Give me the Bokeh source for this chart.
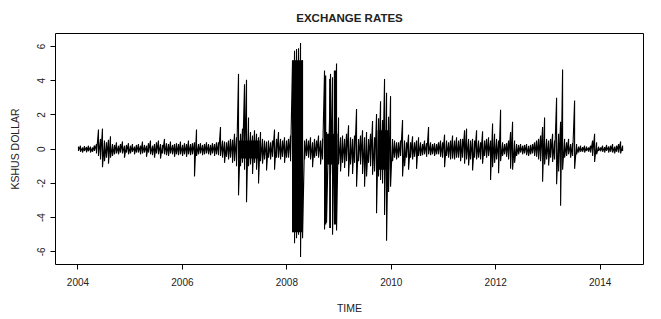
import numpy as np
from bokeh.plotting import figure
from bokeh.models import Range1d, FixedTicker
from bokeh.embed import file_html
from bokeh.resources import INLINE

# ---- data: per-column upper / lower extents of the daily series ----
start_year = 2004.01
end_year = 2014.43

hi = [
    0.15, 0.2, 0.1, 0.18, 0.12, 0.2, 0.15, 0.1, 0.22, 0.3,
    1.15, 0.6, 1.2, 0.5, 0.4, 0.55, 0.75, 0.3, 0.25, 0.4,
    0.2, 0.3, 0.45, 0.2, 0.25, 0.35, 0.2, 0.3, 0.15, 0.25,
    0.3, 0.2, 0.45, 0.25, 0.2, 0.35, 0.5, 0.2, 0.3, 0.4,
    0.5, 0.3, 0.25, 0.6, 0.35, 0.3, 0.45, 0.25, 0.3, 0.35,
    0.3, 0.45, 0.25, 0.35, 0.3, 0.5, 0.3, 0.35, 0.4, 1.15,
    0.3, 0.35, 0.25, 0.3, 0.4, 0.3, 0.25, 0.35, 0.3, 0.4,
    0.4, 1.3, 0.5, 0.45, 0.4, 0.5, 0.6, 0.55, 0.9, 0.7,
    4.4, 0.9, 1.2, 3.8, 4.05, 1.85, 1.0, 0.8, 1.1, 0.9,
    0.7, 1.0, 0.6, 0.5, 0.45, 0.5, 0.4, 0.5, 1.15, 0.6,
    1.0, 0.6, 0.5, 0.7, 0.5, 0.6, 0.8, 5.2, 5.75, 5.85,
    5.9, 6.2, 5.2, 0.5, 0.6, 0.5, 0.7, 0.4, 0.6, 0.5,
    0.8, 0.5, 0.6, 4.6, 1.0, 0.8, 4.4, 4.2, 2.0, 5.0,
    1.85, 0.7, 0.8, 0.6, 0.9, 1.4, 0.7, 0.6, 0.8, 2.35,
    0.6, 0.8, 1.1, 0.7, 1.0, 0.6, 0.9, 1.65, 0.7, 2.05,
    1.8, 2.8, 1.7, 4.1, 3.3, 1.9, 3.1, 0.6, 0.5, 0.4,
    0.4, 0.5, 1.7, 0.5, 0.4, 0.85, 0.4, 0.75, 0.4, 0.5,
    0.7, 0.4, 0.3, 0.5, 0.35, 1.3, 0.4, 0.3, 0.35, 0.3,
    0.4, 0.5, 0.4, 0.85, 0.5, 0.4, 0.5, 0.8, 0.5, 0.7,
    0.5, 0.6, 0.6, 1.1, 1.2, 0.6, 0.5, 0.6, 0.5, 1.1,
    0.5, 0.4, 1.05, 0.5, 0.6, 0.7, 0.5, 1.5, 0.9, 0.6,
    0.5, 2.3, 0.4, 0.3, 0.35, 0.5, 1.0, 1.6, 0.5, 0.3,
    0.25, 0.3, 0.2, 0.25, 0.3, 0.2, 0.25, 0.3, 0.4, 0.5,
    0.6, 0.8, 1.3, 1.85, 0.6, 0.5, 0.6, 0.9, 0.5, 3.0,
    0.9, 1.6, 4.65, 0.6, 0.4, 0.6, 0.3, 0.35, 2.85, 0.3,
    0.15, 0.2, 0.12, 0.2, 0.15, 0.1, 0.2, 0.5, 0.9, 0.4,
    0.15, 0.1, 0.2, 0.12, 0.25, 0.15, 0.2, 0.3, 0.15, 0.2,
    0.3, 0.45, 0.2,
]

lo = [
    -0.1, -0.15, -0.2, -0.1, -0.18, -0.12, -0.2, -0.15, -0.1, -0.25,
    -0.4, -0.6, -1.05, -0.7, -0.5, -0.85, -0.5, -0.4, -0.3, -0.25,
    -0.3, -0.2, -0.25, -0.5, -0.2, -0.3, -0.25, -0.15, -0.3, -0.2,
    -0.2, -0.3, -0.25, -0.2, -0.45, -0.2, -0.3, -0.35, -0.5, -0.25,
    -0.3, -0.55, -0.25, -0.3, -0.35, -0.4, -0.25, -0.3, -0.45, -0.3,
    -0.35, -0.3, -0.4, -0.3, -0.45, -0.3, -0.35, -0.3, -1.6, -0.4,
    -0.3, -0.25, -0.35, -0.3, -0.25, -0.3, -0.35, -0.25, -0.4, -0.3,
    -0.35, -0.4, -0.5, -0.8, -0.45, -0.6, -0.5, -0.8, -0.7, -1.0,
    -2.7, -1.0, -0.8, -1.2, -3.1, -1.0, -0.9, -1.45, -0.8, -1.2,
    -2.0, -0.7, -0.85, -0.6, -1.25, -0.5, -0.6, -0.45, -1.2, -0.5,
    -0.5, -0.6, -0.45, -0.8, -0.5, -0.5, -0.7, -4.85, -5.5, -5.2,
    -5.0, -6.3, -5.2, -0.6, -0.4, -0.5, -0.6, -1.05, -0.5, -0.4,
    -0.5, -0.9, -0.6, -4.7, -4.3, -0.8, -1.5, -5.0, -2.0, -4.75,
    -0.9, -1.3, -0.8, -1.1, -0.7, -1.6, -0.9, -1.45, -0.8, -2.2,
    -0.7, -0.9, -1.45, -2.2, -1.6, -0.8, -1.0, -1.5, -1.3, -3.75,
    -1.6, -1.8, -2.0, -3.85, -5.35, -2.5, -2.2, -0.7, -0.5, -0.6,
    -0.5, -0.4, -1.6, -1.0, -0.5, -1.2, -0.5, -0.6, -0.45, -1.15,
    -0.4, -0.4, -0.35, -0.3, -0.45, -0.3, -0.35, -0.3, -0.4, -0.3,
    -0.3, -0.45, -0.5, -1.05, -0.4, -0.5, -0.6, -0.55, -0.6, -0.5,
    -0.5, -0.7, -0.5, -0.85, -0.6, -0.95, -0.6, -1.25, -0.5, -0.6,
    -0.5, -0.6, -0.85, -0.4, -0.5, -0.4, -1.8, -1.05, -0.8, -0.6,
    -1.4, -0.7, -0.4, -0.3, -0.45, -0.6, -1.15, -1.2, -0.8, -0.4,
    -0.3, -0.2, -0.3, -0.25, -0.35, -0.4, -0.3, -0.25, -0.4, -0.45,
    -0.6, -0.7, -1.9, -0.9, -0.6, -0.95, -0.5, -0.75, -0.6, -2.05,
    -1.3, -3.3, -1.2, -0.5, -0.4, -0.3, -0.5, -0.4, -1.15, -0.3,
    -0.2, -0.15, -0.15, -0.2, -0.1, -0.15, -0.2, -0.4, -0.75, -0.3,
    -0.1, -0.12, -0.15, -0.2, -0.1, -0.2, -0.15, -0.2, -0.25, -0.15,
    -0.2, -0.25, -0.1,
]

# densely packed stretches that print as solid black
dense_start = [2007.08, 2008.11, 2008.72, 2008.77, 2008.81, 2008.90, 2009.74]
dense_end = [2007.48, 2008.31, 2008.755, 2008.97, 2008.845, 2008.945, 2009.96]
dense_top = [0.5, 5.2, 4.3, 0.9, 4.1, 4.6, 1.1]
dense_bottom = [-0.55, -4.85, -4.4, -0.9, -4.6, -4.4, -1.2]

x_ticks = [2004, 2006, 2008, 2010, 2012, 2014]
y_ticks = [-6, -4, -2, 0, 2, 4, 6]

# ---- build the trace: each time step runs from its high to its low ----
n = len(hi)
t = np.linspace(start_year, end_year, n)
xs, ys = [], []
for i in range(n):
    xs.extend([t[i], t[i]])
    ys.extend([hi[i], lo[i]])

p = figure(width=661, height=319, output_backend="svg", toolbar_location=None,
           x_range=Range1d(2003.57, 2014.83), y_range=Range1d(-6.74, 6.76),
           min_border_left=55, min_border_right=18, min_border_top=33, min_border_bottom=55,
           title="EXCHANGE RATES")

p.quad(left=dense_start, right=dense_end, top=dense_top, bottom=dense_bottom,
       fill_color="black", line_color=None)
p.line(xs, ys, line_color="black", line_width=1.1)

p.background_fill_color = "white"
p.border_fill_color = "white"
p.outline_line_color = "black"
p.outline_line_width = 1
p.xgrid.visible = False
p.ygrid.visible = False

p.title.align = "center"
p.title.text_font = "Liberation Sans"
p.title.text_font_style = "bold"
p.title.text_font_size = "11.5px"
p.title.text_color = "#222222"
p.title.standoff = 19

for ax in (p.xaxis[0], p.yaxis[0]):
    ax.axis_line_color = None
    ax.major_tick_line_color = "black"
    ax.major_tick_out = 5
    ax.major_tick_in = 0
    ax.minor_tick_line_color = None
    ax.major_label_text_font = "Liberation Sans"
    ax.major_label_text_font_size = "10px"
    ax.major_label_text_color = "#222222"
    ax.axis_label_text_font = "Liberation Sans"
    ax.axis_label_text_font_size = "10.5px"
    ax.axis_label_text_font_style = "normal"
    ax.axis_label_text_color = "#222222"

p.xaxis[0].ticker = FixedTicker(ticks=x_ticks)
p.yaxis[0].ticker = FixedTicker(ticks=y_ticks)
p.yaxis[0].major_label_overrides = {v: str(v) for v in y_ticks}
p.yaxis[0].major_label_orientation = "vertical"
p.xaxis[0].major_label_standoff = 8
p.yaxis[0].major_label_standoff = 5
p.xaxis[0].axis_label = "TIME"
p.yaxis[0].axis_label = "KSHUS DOLLAR"
p.xaxis[0].axis_label_standoff = 13
p.yaxis[0].axis_label_standoff = 14

open("out.html", "w").write(file_html(p, INLINE))
